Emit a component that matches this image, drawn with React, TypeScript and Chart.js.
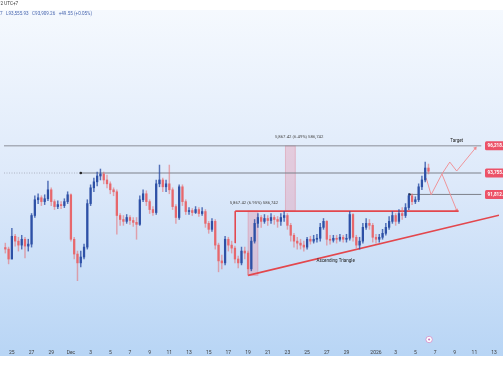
import React, { useEffect, useRef } from "react";
import { Chart, registerables } from "chart.js";
Chart.register(...registerables);

// time axis: days since Nov 25 (3 candles per day)
const START_DAY = -2 / 3;
const CANDLES_PER_DAY = 3;
const firstOpen = 87000;

const closes = [
  86860, 85960, 88020, 87580, 87220, 87750, 87130, 87310, 89900, 91330,
  91510, 91160, 91420, 92230, 91160, 90710, 90890, 90800, 91160, 91780,
  87750, 86410, 85610, 86140, 87040, 90980, 92410, 92950, 93480, 93660,
  93120, 92770, 92230, 92050, 89900, 89540, 89370, 89720, 89450, 89280,
  89100, 91330, 91870, 91160, 90440, 90170, 92770, 93120, 92500, 92770,
  92230, 90710, 89720, 92500, 91160, 90260, 90350, 90170, 90440, 90080,
  90260, 89190, 88650, 89370, 87220, 85790, 85610, 87750, 87220, 86950,
  85960, 85610, 86680, 86500, 85070, 87580, 89190, 89720, 89370, 89630,
  89450, 89720, 89540, 89370, 89720, 89900, 89010, 88110, 87580, 87400,
  87220, 87040, 87750, 87580, 87750, 87840, 88830, 89370, 87750, 87660,
  87840, 87750, 87930, 87750, 87840, 89990, 87930, 87220, 87580, 88830,
  89190, 89010, 87930, 87750, 87930, 88290, 88830, 89370, 89900, 89370,
  90080, 89900, 90620, 91690, 91160, 91330, 92500, 93120, 94200, 93910,
];

const highs = [
  87400, 87040, 88740, 88200, 87930, 88110, 87930, 87750, 90080, 91690,
  91870, 91690, 91780, 93030, 92410, 91330, 91240, 91160, 91420, 92050,
  91870, 87930, 86680, 86680, 87310, 91330, 92680, 93300, 93840, 94110,
  93840, 93570, 92950, 92410, 92230, 90080, 89900, 89990, 89900, 89720,
  89720, 91690, 92230, 92140, 91330, 90710, 93120, 94470, 93300, 93120,
  94470, 92410, 90890, 92680, 92680, 91330, 90620, 90530, 90710, 90620,
  90620, 90440, 89370, 89630, 89540, 87400, 86320, 88020, 87930, 87580,
  87130, 86230, 87040, 87040, 86680, 87930, 89540, 90080, 89900, 89990,
  89900, 90080, 89900, 89810, 90080, 90260, 90080, 89190, 88290, 87930,
  87750, 87580, 87930, 88020, 88110, 88200, 89190, 89630, 89450, 88110,
  88110, 88110, 88200, 88110, 88200, 90260, 90080, 88110, 87930, 89190,
  89630, 89540, 89190, 88200, 88200, 88650, 89190, 89810, 90260, 90080,
  90440, 90620, 90980, 91870, 91870, 91600, 92770, 93480, 94740, 94560,
];

const lows = [
  86500, 85520, 85960, 87130, 86680, 86860, 86050, 86680, 87040, 89720,
  90980, 90800, 90890, 91240, 90800, 90440, 90530, 90530, 90620, 90980,
  87580, 85960, 84000, 85250, 85960, 86860, 90800, 92050, 92590, 93120,
  92770, 92410, 91870, 91690, 88200, 89010, 89010, 89190, 89100, 88920,
  87750, 89010, 91160, 90800, 90080, 89900, 89990, 92500, 92050, 92050,
  91870, 90440, 89190, 89540, 90800, 89990, 89990, 89900, 90080, 89810,
  89900, 88830, 88290, 88470, 86860, 84800, 85070, 85430, 86680, 86500,
  85610, 85160, 85430, 85960, 84530, 84890, 87400, 88830, 88830, 89190,
  89010, 89190, 89100, 88830, 89010, 89370, 88650, 87580, 87040, 86860,
  86860, 86680, 86860, 87310, 87400, 87490, 87580, 88650, 87220, 87310,
  87490, 87400, 87580, 87490, 87490, 87660, 87580, 86950, 86860, 87400,
  88650, 88650, 87490, 87400, 87490, 87750, 88110, 88650, 89190, 89010,
  89190, 89540, 89720, 90440, 90890, 90980, 91160, 92230, 92950, 93660,
];

const tickDays = [0, 2, 4, 6, 8, 10, 12, 14, 16, 18, 20, 22, 24, 26, 28, 30, 32, 34, 37, 39, 41, 43, 45, 47, 49];
const tickLabels = ["25", "27", "29", "Dec", "3", "5", "7", "9", "11", "13", "15", "17", "19", "21", "23", "25", "27", "29", "2026", "3", "5", "7", "9", "11", "13"];

// key price levels
const targetLevel = 96210;
const resistanceLevel = 93750;
const supportLevel = 91810;
const triangleTop = 90300;
const triangleLow = 84480;
const triangleRightEnd = 89920;
const levelLabels = ["96,218.66", "93,755.12", "91,812.40"];

// projected paths
const scenarioUpDays = [42.1, 42.6, 43.7, 44.5, 45.2, 47.1];
const scenarioUpPrices = [93300, 91780, 93660, 94740, 93930, 96000];
const scenarioDownDays = [43.7, 45.2];
const scenarioDownPrices = [93660, 90380];

const measureText1 = "5,867.42 (6.95%) 586,742";
const measureText2 = "5,867.42 (6.49%) 586,742";

const X_MIN = -0.8;
const X_MAX = 49.5;
const Y_MAX = 109055;
const Y_MIN = 78446;

const UP = "#2d50a6";
const DOWN = "#e7676c";
const FONT = "Roboto";

export default function App() {
  const ref = useRef<HTMLCanvasElement>(null);
  useEffect(() => {
    document.body.style.margin = "0";
    const canvas = ref.current!;
    const candles = closes.map((c, i) => {
      const o = i === 0 ? firstOpen : closes[i - 1];
      return { x: START_DAY + i / CANDLES_PER_DAY, o, c, h: highs[i], l: lows[i] };
    });
    const isUp = candles.map((k) => k.c >= k.o);

    const hLine = (x0: number, x1: number, y: number) => [
      { x: x0, y },
      { x: x1, y },
    ];

    const lineDs = (data: any[], color: string, width: number, extra: any = {}) => ({
      type: "line" as const,
      data,
      borderColor: color,
      borderWidth: width,
      pointRadius: 0,
      tension: 0,
      order: 5,
      ...extra,
    });

    const decor = {
      id: "decor",
      beforeDraw(chart: any) {
        const { ctx, width, height } = chart;
        ctx.save();
        ctx.fillStyle = "#ffffff";
        ctx.fillRect(0, 0, width, height);
        const g = ctx.createLinearGradient(0, 10, 0, 356);
        g.addColorStop(0, "#f5f9fe");
        g.addColorStop(0.5, "#dde9fa");
        g.addColorStop(1, "#b8d5f5");
        ctx.fillStyle = g;
        ctx.fillRect(0, 10, width, 346);
        // header
        ctx.font = `4.6px ${FONT}`;
        ctx.textBaseline = "middle";
        ctx.fillStyle = "#333";
        ctx.fillText("12 UTC+7", -2, 4);
        ctx.fillStyle = "#4a68b0";
        ctx.fillText("7   L93,555.93   C93,909.26   +49.55 (+0.05%)", 0, 14);
        ctx.restore();
      },
      beforeDatasetsDraw(chart: any) {
        const { ctx } = chart;
        const xs = chart.scales.x;
        const ys = chart.scales.y;
        const band = (d0: number, d1: number, p0: number, p1: number) => {
          const x0 = xs.getPixelForValue(d0);
          const x1 = xs.getPixelForValue(d1);
          const y0 = ys.getPixelForValue(p1);
          const y1 = ys.getPixelForValue(p0);
          ctx.fillStyle = "rgba(232, 120, 145, 0.28)";
          ctx.fillRect(x0, y0, x1 - x0, y1 - y0);
          ctx.strokeStyle = "rgba(220, 110, 130, 0.35)";
          ctx.lineWidth = 1;
          ctx.strokeRect(x0, y0, x1 - x0, y1 - y0);
        };
        ctx.save();
        band(24, 25, triangleLow, triangleTop);
        band(27.8, 28.8, triangleTop, targetLevel);
        ctx.restore();
      },
      afterDatasetsDraw(chart: any) {
        const { ctx } = chart;
        const xs = chart.scales.x;
        const ys = chart.scales.y;
        ctx.save();
        ctx.textBaseline = "middle";
        ctx.textAlign = "center";
        ctx.font = `4.3px ${FONT}`;
        ctx.fillStyle = "#4a4a4a";
        ctx.fillText(measureText1, xs.getPixelForValue(24.6), ys.getPixelForValue(91060));
        ctx.fillText(measureText2, xs.getPixelForValue(29.2), ys.getPixelForValue(97000));
        ctx.fillStyle = "#222";
        ctx.font = `4.5px ${FONT}`;
        ctx.fillText("Target", xs.getPixelForValue(45.2), ys.getPixelForValue(96640));
        ctx.fillText("Ascending Triangle", xs.getPixelForValue(32.9), ys.getPixelForValue(85790));
        // price labels
        const levels = [targetLevel, resistanceLevel, supportLevel];
        ctx.font = `bold 4.6px ${FONT}`;
        ctx.textAlign = "left";
        levels.forEach((lv, i) => {
          const y = ys.getPixelForValue(lv);
          ctx.fillStyle = "#ec5268";
          ctx.beginPath();
          (ctx as any).roundRect(485, y - 4.5, 30, 9, 1.5);
          ctx.fill();
          ctx.fillStyle = "#ffffff";
          ctx.fillText(levelLabels[i], 487.5, y + 0.3);
        });
        // event marker on time axis
        const mx = xs.getPixelForValue(42.4);
        ctx.beginPath();
        ctx.arc(mx, 339.5, 3.2, 0, Math.PI * 2);
        ctx.fillStyle = "#ffffff";
        ctx.fill();
        ctx.strokeStyle = "#d38ac6";
        ctx.lineWidth = 0.8;
        ctx.stroke();
        ctx.beginPath();
        ctx.arc(mx, 339.5, 1.1, 0, Math.PI * 2);
        ctx.fillStyle = "#c77bbb";
        ctx.fill();
        ctx.restore();
      },
    };

    const chart = new Chart(canvas, {
      type: "bar",
      data: {
        datasets: [
          {
            type: "bar",
            data: candles.map((k) => ({ x: k.x, y: [k.o, k.c] })) as any,
            backgroundColor: isUp.map((u) => (u ? UP : DOWN)),
            barThickness: 1.6,
            grouped: false,
            borderWidth: 0,
            order: 0,
          } as any,
          {
            type: "bar",
            data: candles.map((k) => ({ x: k.x, y: [k.l, k.h] })) as any,
            backgroundColor: isUp.map((u) => (u ? "rgba(45,80,166,0.8)" : "rgba(231,103,108,0.55)")),
            barThickness: 0.8,
            grouped: false,
            borderWidth: 0,
            order: 1,
          } as any,
          lineDs(hLine(X_MIN, 47.7, targetLevel), "#8b8e98", 1),
          lineDs(hLine(X_MIN, 7, resistanceLevel), "rgba(110,113,125,0.55)", 0.8, { borderDash: [1, 1.5] }),
          lineDs(hLine(7, 47.7, resistanceLevel), "#7d808a", 1.2, {
            pointRadius: [1.3, 0],
            pointBackgroundColor: "#222",
            pointBorderWidth: 0,
          }),
          lineDs(hLine(40.4, 47.7, supportLevel), "#7d808a", 1, {
            pointRadius: [1.3, 0],
            pointBackgroundColor: "#222",
            pointBorderWidth: 0,
          }),
          lineDs(hLine(22.7, 45.4, triangleTop), "#e3474d", 1.6, { order: 3 }),
          lineDs([{ x: 22.7, y: triangleTop }, { x: 22.7, y: 87400 }], "#e3474d", 1, { order: 3 }),
          lineDs([{ x: 24, y: triangleLow }, { x: X_MAX, y: triangleRightEnd }], "#e3474d", 1.6, { order: 3 }),
          lineDs(
            scenarioUpDays.map((d, i) => ({ x: d, y: scenarioUpPrices[i] })),
            "#f08a8e",
            0.9,
            {
              order: 3,
              pointRadius: scenarioUpDays.map((_, i) => (i === scenarioUpDays.length - 1 ? 2.2 : 0)),
              pointStyle: "triangle",
              pointRotation: 40,
              pointBackgroundColor: "#f08a8e",
              pointBorderWidth: 0,
            }
          ),
          lineDs(
            scenarioDownDays.map((d, i) => ({ x: d, y: scenarioDownPrices[i] })),
            "#f08a8e",
            0.9,
            {
              order: 3,
              pointRadius: [0, 2.2],
              pointStyle: "triangle",
              pointRotation: 157,
              pointBackgroundColor: "#f08a8e",
              pointBorderWidth: 0,
            }
          ),
        ],
      },
      options: {
        responsive: false,
        animation: false,
        devicePixelRatio: 1,
        layout: { padding: { top: 0, left: 0, right: 0, bottom: 22 } },
        plugins: { legend: { display: false }, tooltip: { enabled: false } },
        scales: {
          x: {
            type: "linear",
            min: X_MIN,
            max: X_MAX,
            offset: false,
            grid: { display: false },
            border: { display: false },
            afterBuildTicks: (s: any) => {
              s.ticks = tickDays.map((v) => ({ value: v }));
            },
            afterFit: (s: any) => {
              s.height = 14;
            },
            ticks: {
              autoSkip: false,
              maxRotation: 0,
              padding: 0,
              color: "#3c3c3c",
              font: { size: 5, family: FONT },
              callback: (_v: any, i: number) => tickLabels[i],
            },
          },
          y: {
            type: "linear",
            display: false,
            min: Y_MIN,
            max: Y_MAX,
          },
        },
      } as any,
      plugins: [decor],
    });
    return () => chart.destroy();
  }, []);
  return <canvas ref={ref} width={503} height={378} style={{ display: "block" }} />;
}
